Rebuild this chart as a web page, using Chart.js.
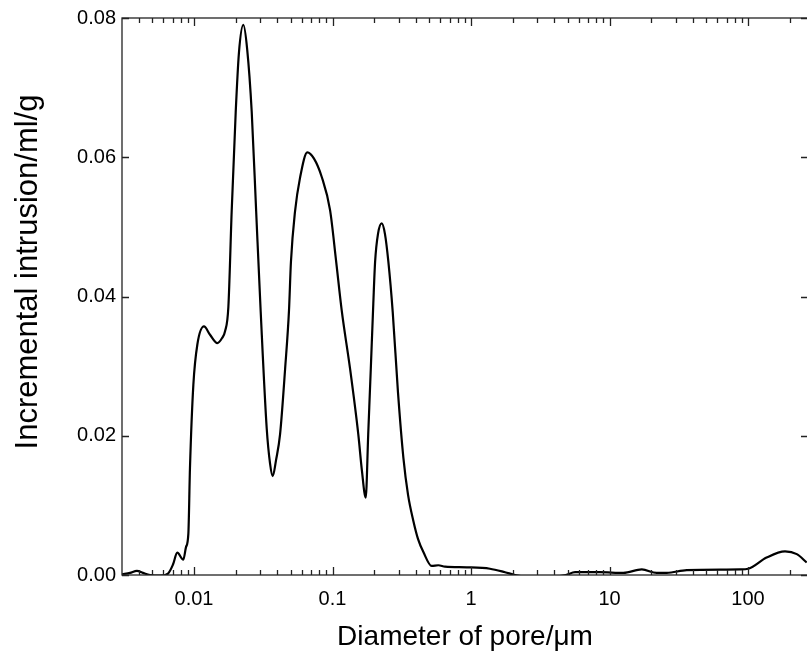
<!DOCTYPE html>
<html>
<head>
<meta charset="utf-8">
<title>Incremental intrusion vs pore diameter</title>
<script src="https://cdn.jsdelivr.net/npm/chart.js@4"></script>
<style>
  html, body { margin: 0; padding: 0; background: #fff; overflow: hidden; }
  #wrap { width: 810px; height: 654px; }
</style>
</head>
<body>
<div id="wrap"><canvas id="poreChart" width="810" height="654"></canvas></div>
<script>
// pore diameter (um)
const diameters = [
  0.00302, 0.00345, 0.00387, 0.00428, 0.00481, 0.00568, 0.00649, 0.00705,
  0.00757, 0.00837, 0.00875, 0.0091, 0.00935, 0.00989, 0.01057, 0.0118,
  0.01305, 0.01474, 0.0159, 0.01675, 0.0177, 0.0187, 0.0200, 0.0211,
  0.0227, 0.0242, 0.0261, 0.0281, 0.0303, 0.0335, 0.0354, 0.0370,
  0.0391, 0.0418, 0.0455, 0.0485, 0.0501, 0.0536, 0.0582, 0.0658,
  0.0735, 0.0835, 0.0960, 0.106, 0.1165, 0.1337, 0.1535, 0.163,
  0.1737, 0.181, 0.189, 0.197, 0.203, 0.213, 0.2266, 0.239,
  0.253, 0.272, 0.297, 0.325, 0.351, 0.383, 0.414, 0.453,
  0.520, 0.581, 0.649, 0.931, 1.37, 1.76, 2.08, 2.67,
  3.6, 4.83, 5.64, 8.53, 12.6, 17.1, 21.9, 25.9,
  36.1, 87.5, 100.5, 136, 185, 225, 265
];
// incremental intrusion (ml/g)
const intrusion = [
  0.0001, 0.0003, 0.0006, 0.0003, 0.0000, -0.0001, 0.0002, 0.0015,
  0.0032, 0.0022, 0.0040, 0.0059, 0.0154, 0.0273, 0.0331, 0.0357,
  0.0345, 0.0333, 0.0340, 0.0350, 0.0385, 0.0522, 0.0665, 0.0750,
  0.0790, 0.0755, 0.0665, 0.0522, 0.0378, 0.0210, 0.0160, 0.0142,
  0.0165, 0.0202, 0.0297, 0.0380, 0.0450, 0.0522, 0.0570, 0.0607,
  0.0598, 0.0572, 0.0524, 0.0452, 0.0380, 0.0297, 0.0202, 0.0150,
  0.0111, 0.0202, 0.0297, 0.0390, 0.0450, 0.0490, 0.0505, 0.0490,
  0.0450, 0.0378, 0.0262, 0.0168, 0.0115, 0.0078, 0.0052, 0.0033,
  0.0013, 0.0014, 0.0012, 0.0011, 0.0009, 0.0004, 0.0000, -0.0003,
  -0.0003, 0.0000, 0.0004, 0.0004, 0.0003, 0.0008, 0.0003, 0.0003,
  0.0007, 0.0008, 0.0009, 0.0025, 0.0034, 0.0030, 0.0018
];

const xMajorTicks = [0.01, 0.1, 1, 10, 100];
const xTickLabels = ['0.01', '0.1', '1', '10', '100'];
const yTicks = [0, 0.02, 0.04, 0.06, 0.08];
const yTickLabels = ['0.00', '0.02', '0.04', '0.06', '0.08'];
const yTitle = 'Incremental intrusion/ml/g';

const X_MIN = 0.00302;
const X_MAX = 271;
const FONT = 'Liberation Sans, Arial, sans-serif';

const points = diameters.map((d, i) => ({ x: d, y: intrusion[i] }));

// frame + inward ticks on all four sides (the library draws them outward)
const frameTicks = {
  id: 'frameTicks',
  afterDraw(chart) {
    const { ctx, chartArea: a, scales: { x, y } } = chart;
    ctx.save();
    ctx.strokeStyle = '#222';
    ctx.lineWidth = 1.3;
    ctx.strokeRect(a.left, a.top, a.right - a.left, a.bottom - a.top);

    ctx.beginPath();
    for (let e = -3; e <= 2; e++) {
      for (let m = 1; m <= 9; m++) {
        const v = m * Math.pow(10, e);
        if (v < X_MIN || v > X_MAX) continue;
        const px = Math.round(x.getPixelForValue(v)) + 0.5;
        const len = m === 1 ? 8 : 5;
        ctx.moveTo(px, a.bottom); ctx.lineTo(px, a.bottom - len);
        ctx.moveTo(px, a.top); ctx.lineTo(px, a.top + len);
      }
    }
    yTicks.forEach(v => {
      const py = Math.round(y.getPixelForValue(v)) + 0.5;
      ctx.moveTo(a.left, py); ctx.lineTo(a.left + 7, py);
      ctx.moveTo(a.right, py); ctx.lineTo(a.right - 7, py);
    });
    ctx.stroke();

    // y title sits a bit above the centre of the axis in the original
    ctx.translate(28, 272);
    ctx.rotate(-Math.PI / 2);
    ctx.fillStyle = '#000';
    ctx.font = '31px ' + FONT;
    ctx.textAlign = 'center';
    ctx.textBaseline = 'middle';
    ctx.fillText(yTitle, 0, 0);
    ctx.restore();
  }
};

new Chart(document.getElementById('poreChart'), {
  type: 'scatter',
  data: {
    datasets: [{
      data: points,
      showLine: true,
      borderColor: '#000',
      borderWidth: 2.2,
      pointRadius: 0,
      cubicInterpolationMode: 'monotone',
      clip: 0
    }]
  },
  options: {
    responsive: false,
    animation: false,
    layout: { padding: { top: 17, right: 2, left: 0, bottom: 0 } },
    plugins: { legend: { display: false }, tooltip: { enabled: false } },
    scales: {
      x: {
        type: 'logarithmic',
        min: X_MIN,
        max: X_MAX,
        afterBuildTicks(scale) {
          scale.ticks = xMajorTicks.map(v => ({ value: v, major: true }));
        },
        afterFit(scale) { scale.height = 79; },
        grid: { display: false, drawTicks: false },
        border: { display: false },
        ticks: {
          autoSkip: false,
          maxRotation: 0,
          padding: 12,
          color: '#000',
          font: { family: FONT, size: 20 },
          callback(value) {
            const i = xMajorTicks.findIndex(t => Math.abs(t - value) / t < 1e-6);
            return i >= 0 ? xTickLabels[i] : '';
          }
        },
        title: {
          display: true,
          text: 'Diameter of pore/\u03bcm',
          color: '#000',
          padding: { top: 0, bottom: 0 },
          font: { family: FONT, size: 28 }
        }
      },
      y: {
        min: 0,
        max: 0.08,
        afterBuildTicks(scale) {
          scale.ticks = yTicks.map(v => ({ value: v }));
        },
        afterFit(scale) { scale.width = 122; },
        grid: { display: false, drawTicks: false },
        border: { display: false },
        ticks: {
          padding: 6,
          color: '#000',
          font: { family: FONT, size: 20 },
          callback(value) {
            const i = yTicks.findIndex(t => Math.abs(t - value) < 1e-9);
            return i >= 0 ? yTickLabels[i] : '';
          }
        },
        title: { display: false }
      }
    }
  },
  plugins: [frameTicks]
});
</script>
</body>
</html>
